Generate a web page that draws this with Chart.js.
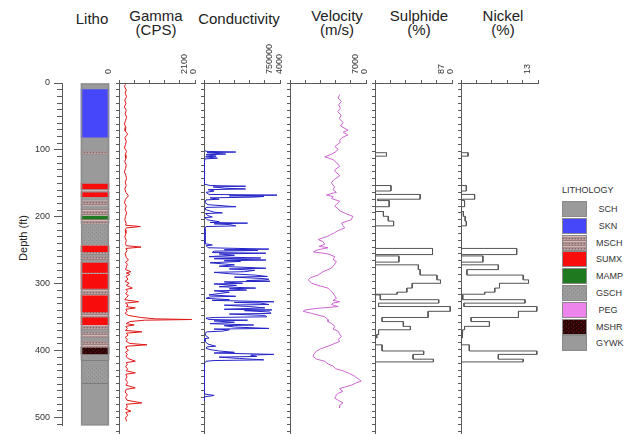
<!DOCTYPE html>
<html>
<head>
<meta charset="utf-8">
<script src="https://cdn.jsdelivr.net/npm/chart.js@4.4.1/dist/chart.umd.min.js"></script>
<style>
  body { margin: 0; background: #fff; }
  #wrap { position: relative; width: 630px; height: 435px; overflow: hidden;
          font-family: "Liberation Sans", Arial, sans-serif; color: #222; }
  .pane { position: absolute; top: 0; height: 435px; }
  .ttl { position: absolute; font-size: 15px; line-height: 14px; text-align: center;
         white-space: nowrap; transform: translateX(-50%); }
  #depth { position: absolute; left: 23px; top: 238px; font-size: 11px; white-space: nowrap;
           transform: translate(-50%, -50%) rotate(-90deg); }
  #legend { position: absolute; left: 562px; top: 185px; font-size: 9px; color: #333; }
  #legend .hd { position: absolute; left: 0; top: 0; white-space: nowrap; }
  #legend .sw { position: absolute; left: 0; width: 23px; height: 14px; border: 1px solid #8a8a8a; }
  #legend .lb { position: absolute; left: 34px; width: 24px; text-align: center; font-size: 9px; line-height: 16px; }
</style>
</head>
<body>
<div id="wrap">
  <div class="ttl" style="left:92px;top:11.5px">Litho</div>
  <div class="ttl" style="left:156px;top:8.5px">Gamma<br>(CPS)</div>
  <div class="ttl" style="left:239px;top:11.5px">Conductivity</div>
  <div class="ttl" style="left:337px;top:8.5px">Velocity<br>(m/s)</div>
  <div class="ttl" style="left:419px;top:8.5px">Sulphide<br>(%)</div>
  <div class="ttl" style="left:503px;top:8.5px">Nickel<br>(%)</div>
  <div id="depth">Depth (ft)</div>
  <div id="legend"></div>

  <div class="pane" style="left:0;width:128px"><canvas id="litho"></canvas></div>
  <div class="pane" style="left:99px;width:106px"><canvas id="gamma"></canvas></div>
  <div class="pane" style="left:184px;width:106px"><canvas id="cond"></canvas></div>
  <div class="pane" style="left:270px;width:106px"><canvas id="vel"></canvas></div>
  <div class="pane" style="left:355px;width:107px"><canvas id="sulph"></canvas></div>
  <div class="pane" style="left:441px;width:107px"><canvas id="nickel"></canvas></div>
</div>

<script>
// lithology intervals (ft)
const lithoTop  = [0, 9, 81, 102, 106, 150, 158, 163, 170, 175, 183, 188, 198, 203, 210, 243, 252, 256, 259, 264, 268, 283, 285, 307, 313, 317, 342, 350, 361, 368, 372, 380, 385, 395, 405, 414, 449];
const lithoBase = [9, 81, 102, 106, 150, 158, 163, 170, 175, 183, 188, 198, 203, 210, 243, 252, 256, 259, 264, 268, 283, 285, 307, 313, 317, 342, 350, 361, 368, 372, 380, 385, 395, 405, 414, 449, 512];
const lithoCode = ['SCH', 'SKN', 'SCH', 'MSCH', 'SCH', 'SUMX', 'MSCH', 'SUMX', 'SCH', 'MSCH', 'SCH', 'MSCH', 'MAMP', 'MSCH', 'GSCH', 'SUMX', 'MSCH', 'SCH', 'MSCH', 'SCH', 'SUMX', 'MSCH', 'SUMX', 'MSCH', 'MSCH', 'SUMX', 'MSCH', 'SUMX', 'MSCH', 'SCH', 'MSCH', 'SCH', 'MSCH', 'MSHR', 'SCH', 'GSCH', 'GYWK'];
const lithoLegend = ['SCH', 'SKN', 'MSCH', 'SUMX', 'MAMP', 'GSCH', 'PEG', 'MSHR', 'GYWK'];

// gamma log
const gammaDepth = [2, 5, 10, 15, 20, 25, 30, 35, 40, 45, 50, 55, 60, 65, 70, 75, 80, 85, 90, 95, 100, 105, 110, 115, 120, 125, 130, 135, 140, 145, 150, 155, 160, 165, 170, 175, 180, 185, 190, 195, 200, 205, 208, 210, 212, 215, 220, 225, 230, 235, 238, 240, 242, 245, 250, 255, 259, 262, 265, 270, 273, 276, 278, 280, 283, 287, 290, 293, 296, 300, 302, 305, 308, 311, 314, 317, 320, 322, 325, 327, 329, 331, 334, 337, 340, 343, 345, 346, 347, 349, 352, 354, 356, 359, 362, 364, 366, 369, 372, 375, 378, 381, 383, 385, 388, 391, 394, 397, 400, 403, 407, 409, 412, 415, 418, 421, 424, 426, 430, 434, 438, 442, 446, 448, 452, 456, 460, 464, 468, 470, 474, 477, 480, 482, 486, 490, 495];
const gammaCPS   = [180, 150, 200, 170, 210, 160, 190, 150, 200, 170, 210, 180, 150, 190, 170, 240, 160, 200, 180, 150, 210, 170, 190, 160, 200, 180, 150, 190, 210, 170, 200, 160, 190, 260, 180, 150, 200, 170, 210, 180, 160, 200, 180, 590, 200, 170, 190, 160, 200, 180, 200, 610, 190, 220, 170, 200, 260, 180, 230, 200, 180, 330, 200, 300, 190, 250, 170, 280, 200, 370, 190, 240, 180, 260, 200, 160, 540, 180, 250, 200, 450, 190, 220, 170, 260, 600, 1000, 2010, 700, 300, 200, 420, 190, 230, 180, 630, 200, 250, 170, 230, 200, 300, 770, 220, 200, 260, 180, 230, 190, 250, 450, 200, 230, 180, 240, 200, 450, 190, 220, 180, 240, 190, 450, 200, 170, 230, 180, 220, 630, 200, 230, 180, 330, 190, 240, 180, 210];

// conductivity log
const condDepth = [98, 100, 101, 102, 104, 105, 107, 108, 110, 111, 114, 148, 150, 151, 152, 154, 155, 156, 158, 160, 163, 164, 165, 166, 167, 168, 170, 171, 175, 178, 181, 182, 185, 189, 190, 191, 194, 196, 197, 200, 203, 204, 205, 206, 207, 209, 210, 213, 235, 237, 238, 241, 243, 244, 245, 246, 248, 249, 250, 252, 254, 256, 257, 259, 260, 261, 263, 266, 268, 271, 272, 274, 276, 277, 279, 281, 283, 284, 286, 287, 288, 289, 290, 291, 293, 294, 296, 298, 300, 301, 303, 304, 306, 308, 310, 312, 313, 315, 317, 318, 320, 321, 322, 324, 325, 327, 329, 331, 332, 333, 335, 337, 338, 340, 342, 343, 344, 346, 347, 348, 350, 352, 354, 355, 357, 359, 360, 361, 363, 364, 366, 370, 373, 374, 378, 382, 385, 386, 388, 390, 392, 394, 395, 397, 398, 400, 401, 403, 405, 406, 407, 410, 455, 457, 458, 459, 465];
const condVal   = [5000, 20000, 313000, 30000, 214000, 20000, 120000, 15000, 132000, 10000, 5000, 5000, 60000, 411000, 90000, 214000, 410000, 40000, 100000, 20000, 50000, 720000, 250000, 592000, 480000, 60000, 150000, 20000, 10000, 40000, 313000, 20000, 10000, 100000, 181000, 15000, 40000, 82000, 10000, 30000, 150000, 60000, 430000, 100000, 250000, 313000, 20000, 10000, 10000, 82000, 20000, 40000, 640000, 200000, 530000, 100000, 80000, 610000, 150000, 300000, 50000, 560000, 100000, 610000, 200000, 360000, 60000, 300000, 150000, 610000, 250000, 500000, 400000, 100000, 250000, 500000, 625000, 300000, 580000, 640000, 600000, 420000, 650000, 200000, 380000, 100000, 320000, 150000, 510000, 250000, 420000, 100000, 250000, 150000, 50000, 313000, 60000, 20000, 250000, 80000, 690000, 300000, 560000, 640000, 200000, 450000, 600000, 200000, 670000, 400000, 650000, 660000, 250000, 600000, 620000, 100000, 20000, 50000, 430000, 100000, 300000, 60000, 490000, 200000, 300000, 640000, 100000, 250000, 181000, 30000, 10000, 20000, 50000, 10000, 10000, 40000, 115000, 30000, 20000, 60000, 150000, 300000, 100000, 690000, 460000, 520000, 150000, 350000, 590000, 100000, 20000, 5000, 5000, 100000, 60000, 5000, 5000];

// velocity log
const velDepth = [17, 22, 27, 32, 37, 42, 47, 52, 58, 63, 69, 72, 76, 80, 84, 87, 93, 97, 100, 104, 108, 112, 117, 122, 126, 129, 133, 136, 141, 146, 152, 156, 160, 162, 164, 166, 169, 173, 177, 180, 184, 187, 191, 195, 200, 205, 209, 212, 216, 219, 224, 229, 232, 236, 239, 241, 244, 247, 250, 254, 258, 261, 266, 271, 276, 281, 285, 288, 293, 297, 300, 304, 307, 311, 315, 318, 320, 322, 324, 327, 330, 332, 334, 337, 342, 346, 349, 352, 356, 360, 363, 367, 371, 375, 378, 382, 385, 389, 392, 396, 400, 404, 407, 411, 414, 418, 421, 425, 429, 433, 436, 439, 442, 445, 447, 449, 451, 454, 456, 459, 461, 464, 468, 472, 475];
const velMs    = [5960, 5900, 6030, 5920, 5990, 5880, 6020, 5950, 6090, 6000, 6290, 6100, 6280, 6050, 5960, 5980, 5770, 5900, 5830, 5650, 5370, 5700, 5850, 5960, 5800, 5760, 5900, 5960, 5750, 5630, 5760, 5700, 5830, 5600, 5440, 5700, 5640, 5960, 5850, 5760, 5900, 5960, 6200, 6480, 6420, 6030, 6100, 6160, 5900, 5760, 5500, 5110, 5300, 5370, 5150, 5500, 5100, 4920, 5500, 5770, 5700, 5830, 5750, 5630, 5300, 5110, 4800, 4720, 4850, 5200, 5500, 5600, 5700, 5760, 5830, 5700, 5960, 5700, 5630, 5900, 5000, 4590, 4520, 4850, 5370, 5500, 5500, 5650, 5770, 5700, 5900, 5950, 6030, 5900, 5960, 5700, 5500, 5200, 5050, 4950, 4910, 5050, 5370, 5500, 5700, 5800, 6090, 6350, 6550, 6700, 6810, 6600, 6420, 6150, 5960, 6000, 6090, 5900, 5830, 5800, 5770, 5900, 6090, 5950, 5960];

// assay intervals
const assayTop  = [102, 150, 163, 170, 172, 188, 195, 202, 242, 253, 266, 273, 281, 288, 293, 300, 306, 310, 317, 322, 327, 334, 343, 349, 356, 361, 368, 383, 392, 397, 404];
const assayBase = [107, 158, 170, 172, 181, 195, 202, 209, 251, 262, 273, 281, 288, 293, 300, 306, 309, 317, 322, 327, 334, 343, 349, 356, 361, 368, 373, 392, 397, 404, 408];
const sulphPct  = [13, 18, 51, 3, 16, 9.5, 15, 21, 65, 27, 49, 51, 70, 74, 42, 36, 25, 6, 72, 4, 85, 60, 8, 32, 40, 4, 2, 8, 55, 43, 66];
const nickelPct = [1.2, 0.9, 2.3, 0.3, 0.6, 0.4, 0.7, 0.9, 9.4, 3.7, 6.3, 1.0, 10.5, 11.4, 6.5, 5.7, 4.0, 0.3, 10.8, 0.5, 12.8, 9.7, 1.7, 4.8, 0.6, 0.3, 0.2, 1.4, 12.8, 6.3, 10.5];

const depthMax = 512;
const family = '"Liberation Sans", Arial, sans-serif';
const axisColor = '#5a5a5a';
Chart.defaults.font.family = family;

// simple fill textures for the patterned units
function tile(w, h, base, rows) {
    const c = document.createElement('canvas');
    c.width = w; c.height = h;
    const g = c.getContext('2d');
    g.fillStyle = base;
    g.fillRect(0, 0, w, h);
    rows.forEach(r => { g.fillStyle = r[4]; g.fillRect(r[0], r[1], r[2], r[3]); });
    return c;
}
const mschTile = tile(6, 5, '#ad9090', [[0, 0, 6, 1, '#d3b6b6'], [0, 2, 1, 1, '#7d6464'], [3, 2, 1, 1, '#7d6464'], [1, 3, 1, 1, '#c9abab'], [4, 3, 1, 1, '#c9abab'], [0, 4, 6, 1, '#9a8080']]);
const gschTile = tile(4, 4, '#9b9b9b', [[0, 0, 1, 1, '#8a8a8a'], [2, 2, 1, 1, '#8a8a8a']]);
const mshrTile = tile(5, 4, '#2c0606', [[0, 0, 1, 1, '#6e1212'], [3, 2, 1, 1, '#6e1212'], [1, 3, 1, 1, '#4a0c0c']]);

const ctx0 = document.createElement('canvas').getContext('2d');
const lithoFill = {
    SCH: '#9a9a9a',
    SKN: '#4646fa',
    MSCH: ctx0.createPattern(mschTile, 'repeat'),
    SUMX: '#f80c0c',
    MAMP: '#1f7a1f',
    GSCH: ctx0.createPattern(gschTile, 'repeat'),
    PEG: '#ec84ec',
    MSHR: ctx0.createPattern(mshrTile, 'repeat'),
    GYWK: '#9a9a9a'
};
const lithoCss = {
    SCH: '#9a9a9a', SKN: '#4646fa', MSCH: 'url(' + mschTile.toDataURL() + ')', SUMX: '#f80c0c',
    MAMP: '#1f7a1f', GSCH: 'url(' + gschTile.toDataURL() + ')', PEG: '#ec84ec',
    MSHR: 'url(' + mshrTile.toDataURL() + ')', GYWK: '#9a9a9a'
};

// legend
const legend = document.getElementById('legend');
legend.innerHTML = '<div class="hd">LITHOLOGY</div>';
lithoLegend.forEach((code, i) => {
    const top = 16 + i * 16.8;
    legend.innerHTML += '<div class="sw" style="top:' + top + 'px;background:' + lithoCss[code] + '"></div>' +
        '<div class="lb" style="top:' + top + 'px">' + code + '</div>';
});

// litho column
const lithoSets = lithoTop.map((t, i) => ({
    data: [[t, lithoBase[i]]],
    backgroundColor: lithoFill[lithoCode[i]],
    borderColor: '#6a6a6a',
    borderWidth: (lithoCode[i] === 'GSCH' || lithoCode[i] === 'GYWK') ? { top: 1, bottom: 0, left: 0, right: 0 } : 0,
    borderSkipped: false,
    grouped: false,
    barThickness: 28
}));
lithoSets.push({
    data: [[0, depthMax]],
    backgroundColor: 'rgba(0,0,0,0)',
    borderColor: '#8c8c8c',
    borderWidth: 1,
    borderSkipped: false,
    grouped: false,
    barThickness: 28,
    order: -1
});

new Chart(document.getElementById('litho'), {
    type: 'bar',
    data: { labels: ['Litho'], datasets: lithoSets },
    options: {
        responsive: true,
        maintainAspectRatio: false,
        animation: false,
        layout: { padding: { left: 0, right: 0, top: 83, bottom: 2 } },
        plugins: { legend: { display: false }, tooltip: { enabled: false } },
        scales: {
            x: { display: false },
            y: {
                reverse: true, min: 0, max: depthMax,
                afterFit: s => { s.width = 62; },
                border: { color: axisColor, width: 1 },
                grid: {
                    drawOnChartArea: false, tickLength: 8, color: axisColor,
                    tickBorderDash: c => (c.tick && c.tick.value % 100 === 0) ? [] : [0, 3, 20, 0]
                },
                ticks: {
                    stepSize: 10, autoSkip: false, includeBounds: false, padding: 4,
                    color: '#333', font: { size: 9 },
                    callback: v => v % 100 === 0 ? String(v) : ''
                }
            }
        }
    }
});

// log panels
function panelOptions(xmin, xmax) {
    return {
        responsive: true,
        maintainAspectRatio: false,
        animation: false,
        layout: { padding: { left: 0, right: 10, top: 0, bottom: 2 } },
        plugins: { legend: { display: false }, tooltip: { enabled: false } },
        scales: {
            x: {
                type: 'linear', position: 'top', min: xmin, max: xmax,
                afterFit: s => { s.height = 83; s.paddingLeft = 0; s.paddingRight = 0; },
                border: { color: axisColor, width: 1 },
                grid: { drawOnChartArea: false, tickLength: 3, color: axisColor },
                ticks: {
                    count: 6, autoSkip: false, minRotation: 90, maxRotation: 90, padding: 6,
                    color: '#333', font: { size: 9 },
                    callback: (v, i, t) => (i === 0 || i === t.length - 1) ? String(v) : ''
                }
            },
            y: {
                type: 'linear', position: 'left', reverse: true, min: 0, max: depthMax,
                afterFit: s => { s.width = 20; },
                border: { color: axisColor, width: 1 },
                grid: { drawOnChartArea: false, tickLength: 3, color: axisColor },
                ticks: { display: false, stepSize: 10, autoSkip: false, includeBounds: false }
            }
        }
    };
}

function logChart(id, depths, vals, color, xmin, xmax) {
    new Chart(document.getElementById(id), {
        type: 'scatter',
        data: {
            datasets: [{
                data: depths.map((d, i) => ({ x: vals[i], y: d })),
                showLine: true,
                borderColor: color,
                borderWidth: 1,
                pointRadius: 0,
                tension: 0
            }]
        },
        options: panelOptions(xmin, xmax)
    });
}

function stepPoints(tops, bases, vals) {
    const pts = [];
    for (let i = 0; i < tops.length; i++) {
        if (i === 0 || tops[i] > bases[i - 1]) pts.push({ x: 0, y: tops[i] });
        pts.push({ x: vals[i], y: tops[i] });
        pts.push({ x: vals[i], y: bases[i] });
        if (i === tops.length - 1 || tops[i + 1] > bases[i]) pts.push({ x: 0, y: bases[i] });
    }
    return pts;
}

function assayChart(id, vals, xmax) {
    new Chart(document.getElementById(id), {
        type: 'scatter',
        data: {
            datasets: [{
                data: stepPoints(assayTop, assayBase, vals),
                showLine: true,
                borderColor: '#555',
                borderWidth: 1,
                pointRadius: 0
            }]
        },
        options: panelOptions(0, xmax)
    });
}

logChart('gamma', gammaDepth, gammaCPS, '#e01818', 0, 2100);
logChart('cond', condDepth, condVal, '#2424c8', 0, 750000);
logChart('vel', velDepth, velMs, '#cc66d0', 4000, 7000);
assayChart('sulph', sulphPct, 87);
assayChart('nickel', nickelPct, 13);
</script>
</body>
</html>
